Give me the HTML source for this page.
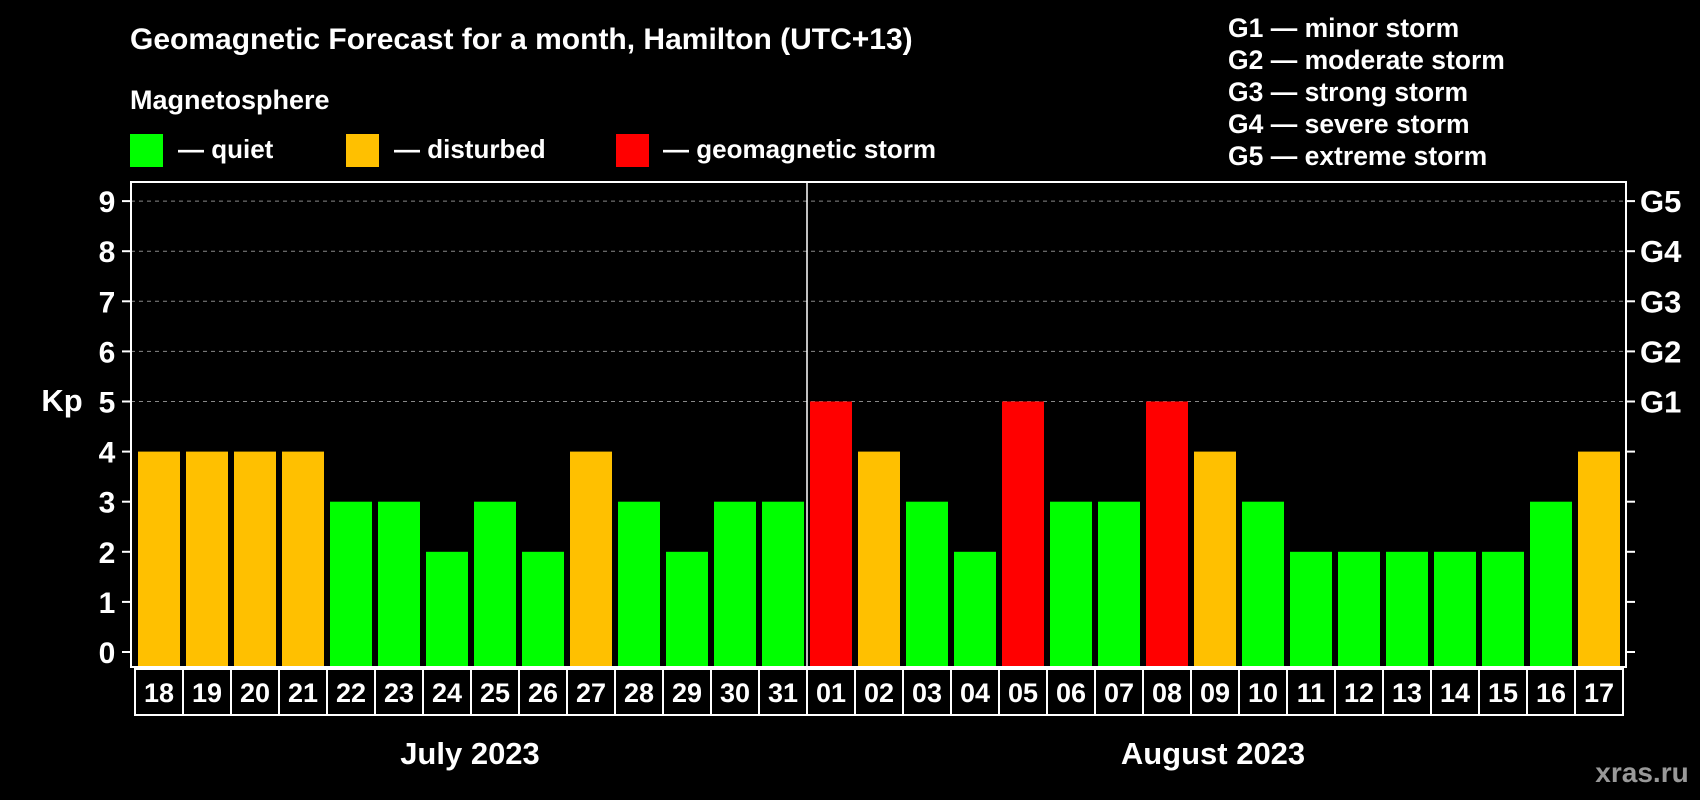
<!DOCTYPE html>
<html><head><meta charset="utf-8"><style>
html,body{margin:0;padding:0;background:#000;width:1700px;height:800px;overflow:hidden}
svg text{font-family:"Liberation Sans",Arial,sans-serif;font-weight:bold;fill:#fff}
</style></head><body>
<svg id="chart" width="1700" height="800" viewBox="0 0 1700 800">
<text x="130" y="49" font-size="30">Geomagnetic Forecast for a month, Hamilton (UTC+13)</text>
<text x="130" y="109" font-size="27">Magnetosphere</text>
<rect x="130" y="134" width="33" height="33" fill="#00ff00"/>
<text x="178" y="158" font-size="26">— quiet</text>
<rect x="346" y="134" width="33" height="33" fill="#ffc000"/>
<text x="394" y="158" font-size="26">— disturbed</text>
<rect x="616" y="134" width="33" height="33" fill="#ff0000"/>
<text x="663" y="158" font-size="26">— geomagnetic storm</text>
<g font-size="26.5">
<text x="1228" y="37">G1 — minor storm</text>
<text x="1228" y="69">G2 — moderate storm</text>
<text x="1228" y="101">G3 — strong storm</text>
<text x="1228" y="133">G4 — severe storm</text>
<text x="1228" y="165">G5 — extreme storm</text>
</g>
<text x="62" y="411" font-size="31" text-anchor="middle">Kp</text>
<text x="470" y="764" font-size="31" text-anchor="middle">July 2023</text>
<text x="1213" y="764" font-size="31" text-anchor="middle">August 2023</text>
<text x="1642" y="782" font-size="28" text-anchor="middle" style="fill:#999">xras.ru</text>
<g id="plot"></g>
</svg>
<script>
const days=["18","19","20","21","22","23","24","25","26","27","28","29","30","31","01","02","03","04","05","06","07","08","09","10","11","12","13","14","15","16","17"];
const kp=[4,4,4,4,3,3,2,3,2,4,3,2,3,3,5,4,3,2,5,3,3,5,4,3,2,2,2,2,2,3,4];
const yTicks=[0,1,2,3,4,5,6,7,8,9];
const gLabels=["G1","G2","G3","G4","G5"];
const NS="http://www.w3.org/2000/svg";
const g=document.getElementById('plot');
const L=131,R=1626,T=182,B=667,Y0=652,UNIT=50.1,X0=159,STEP=48,BW=42;
const y=v=>Y0-v*UNIT, x=i=>X0+i*STEP;
function mk(tag,attrs){const e=document.createElementNS(NS,tag);for(const k in attrs)e.setAttribute(k,attrs[k]);g.appendChild(e);return e;}
const col=v=>v>=5?"#ff0000":(v>=4?"#ffc000":"#00ff00");
yTicks.forEach(t=>{
 if(t>=5){const l=mk('line',{x1:L,x2:R,y1:y(t),y2:y(t),stroke:'#888','stroke-dasharray':'4,4','stroke-width':1});
 
 }
 const a=mk('line',{x1:L-9,x2:L,y1:y(t),y2:y(t),stroke:'#fff','stroke-width':2});
 
 
 const b=mk('line',{x1:R,x2:R+9,y1:y(t),y2:y(t),stroke:'#fff','stroke-width':2});
 
 
 const tx=mk('text',{x:L-24,y:y(t)+11,'font-size':30,'text-anchor':'middle'});tx.textContent=t;
 
 
});
gLabels.forEach((s,i)=>{
 const tx=mk('text',{x:1640,y:y(5+i)+11,'font-size':31});tx.textContent=s;
 
 
});
kp.forEach((v,i)=>{
 const r=mk('rect',{x:x(i)-BW/2,y:y(v),width:BW,height:B-1-y(v),fill:col(v)});
 
 
 const c=mk('rect',{x:x(i)-24,y:B+2,width:48,height:46,fill:'none',stroke:'#fff','stroke-width':2});
 
 
 const tx=mk('text',{x:x(i),y:B+35,'font-size':27,'text-anchor':'middle'});tx.textContent=days[i];
 
 
});
const fr=mk('rect',{x:L,y:T,width:R-L,height:B-T,fill:'none',stroke:'#fff','stroke-width':2});


const mi=days.indexOf("01");
const dv=mk('line',{x1:x(mi)-24,x2:x(mi)-24,y1:T,y2:B,stroke:'#fff','stroke-width':1.5});


</script>
</body></html>
